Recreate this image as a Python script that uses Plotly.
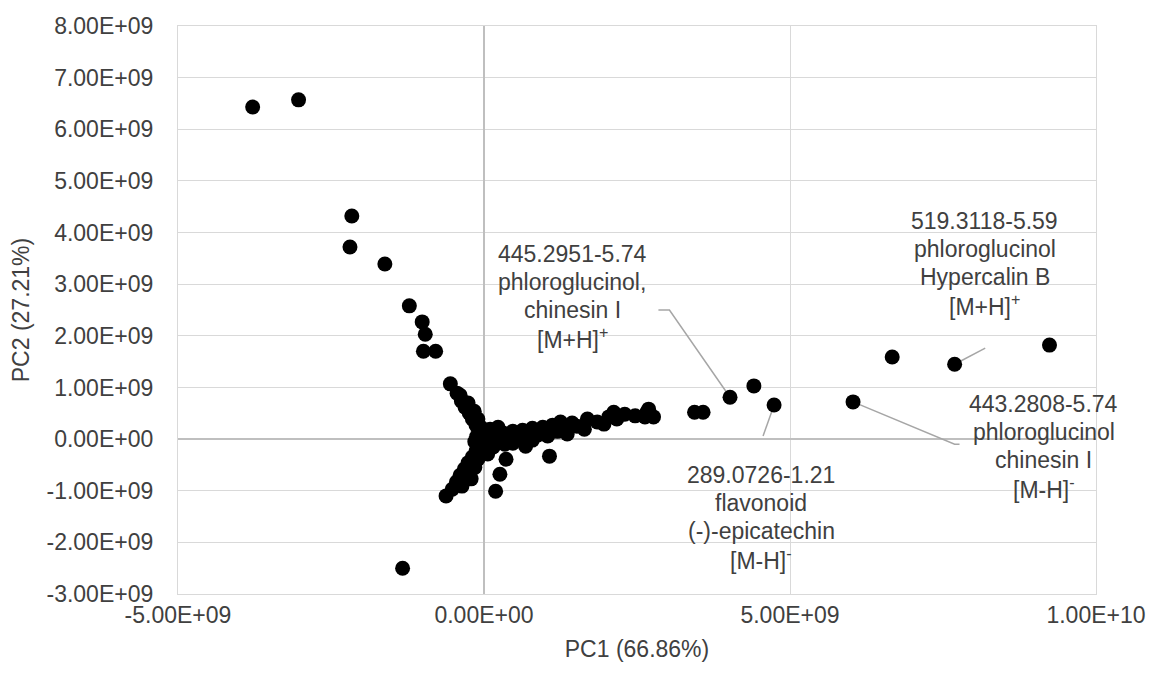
import plotly.graph_objects as go
import numpy as np

SCALE = 1e9  # values below are in units of 1e9

# PC1 / PC2 scores (x 1e9)
pc1 = [
    -3.78, -3.03, -2.16, -2.19, -1.62, -1.22, -1.01, -0.96, -0.99, -0.79,
    -0.55, -0.44, -0.39, -0.37, -0.31, -0.26, -0.24, -0.19, -0.16, -0.13,
    -0.10, -0.08, -0.05, -0.03, -0.15, -0.12,
    -0.06, -0.13, -0.19, -0.26, -0.32, -0.39, -0.45, -0.52, -0.62, -0.21,
    -0.36, -0.10, -0.15, -0.05, -1.33,
    0.36, 0.26, 0.19, 0.06, 0.15, 0.03,
    0.06, 0.15, 0.10, 0.23, 0.23, 0.31, 0.34, 0.39, 0.47, 0.47,
    0.55, 0.63, 0.68, 0.71, 0.79, 0.79, 0.88, 0.96, 1.04, 1.07,
    1.12, 1.20, 1.25, 1.36, 1.44, 1.52, 1.64, 1.69, 1.85, 1.96,
    2.04, 2.12, 2.17, 2.30, 2.47, 2.63, 2.66, 2.69, 2.77, 3.44, 3.58,
    4.02, 4.41, 4.74, 6.03, 6.67, 7.69, 9.24,
]
pc2 = [
    6.43, 6.57, 4.32, 3.72, 3.39, 2.58, 2.27, 2.03, 1.70, 1.70,
    1.07, 0.89, 0.85, 0.74, 0.62, 0.70, 0.50, 0.39, 0.54, 0.27,
    0.39, 0.15, 0.23, 0.06, -0.05, 0.05,
    -0.12, -0.23, -0.35, -0.46, -0.58, -0.70, -0.83, -0.97, -1.10, -0.77,
    -0.91, -0.39, -0.55, -0.25, -2.50,
    -0.39, -0.68, -1.01, -0.29, -0.15, -0.14,
    0.00, 0.08, 0.19, 0.00, 0.23, 0.12, -0.10, 0.04, 0.15, -0.08,
    0.04, 0.17, -0.14, 0.00, 0.21, -0.02, 0.08, 0.23, 0.06, -0.33,
    0.27, 0.15, 0.33, 0.10, 0.31, 0.25, 0.19, 0.39, 0.33, 0.29,
    0.43, 0.52, 0.39, 0.48, 0.45, 0.43, 0.52, 0.58, 0.43, 0.52, 0.52,
    0.81, 1.03, 0.66, 0.72, 1.59, 1.45, 1.82,
]

x_tick_vals = [-5, 0, 5, 10]
y_tick_vals = [-3, -2, -1, 0, 1, 2, 3, 4, 5, 6, 7, 8]

label_lines = [
    ["445.2951-5.74", "phloroglucinol,", "chinesin I", "[M+H]<sup>+</sup>"],
    ["289.0726-1.21", "flavonoid", "(-)-epicatechin", "[M-H]<sup>-</sup>"],
    ["443.2808-5.74", "phloroglucinol", "chinesin I", "[M-H]<sup>-</sup>"],
    ["519.3118-5.59", "phloroglucinol", "Hypercalin B", "[M+H]<sup>+</sup>"],
]
# position of first text line (x 1e9)
label_x = [1.44, 4.53, 9.15, 8.18]
label_y = [3.58, -0.70, 0.68, 4.22]
# leader lines (x 1e9)
leader_x = [[2.85, 3.03, 4.02], [4.56, 4.74], [6.03, 7.69, 7.77], [7.69, 8.19]]
leader_y = [[2.50, 2.50, 0.81], [0.06, 0.66], [0.72, -0.10, -0.10], [1.45, 1.76]]

FONT = "Liberation Sans, Arial, sans-serif"
TXT = "#404040"
LINE_STEP = 28

fig = go.Figure()
for lx, ly in zip(leader_x, leader_y):
    fig.add_trace(go.Scatter(
        x=np.array(lx) * SCALE, y=np.array(ly) * SCALE, mode="lines",
        line=dict(color="#a6a6a6", width=1.5), hoverinfo="skip", showlegend=False))

fig.add_trace(go.Scatter(
    x=np.array(pc1) * SCALE, y=np.array(pc2) * SCALE, mode="markers",
    marker=dict(color="black", size=15, line=dict(width=0)),
    showlegend=False))

for lines, ax, ay in zip(label_lines, label_x, label_y):
    for i, t in enumerate(lines):
        fig.add_annotation(
            x=ax * SCALE, y=ay * SCALE, xref="x", yref="y", text=t,
            showarrow=False, xanchor="center", yanchor="middle",
            yshift=-LINE_STEP * i,
            font=dict(family=FONT, size=23, color=TXT))

axis_common = dict(
    showgrid=True, gridcolor="#d9d9d9", gridwidth=1.3,
    zeroline=True, zerolinecolor="#bfbfbf", zerolinewidth=1.5,
    showline=True, mirror=True, linecolor="#d9d9d9", linewidth=1.3,
    tickcolor="rgba(0,0,0,0)",
    tickfont=dict(family=FONT, size=23, color=TXT),
)

fig.update_layout(
    width=1158, height=675,
    margin=dict(l=178, r=55, t=26, b=81),
    paper_bgcolor="white", plot_bgcolor="white",
    font=dict(family=FONT, color=TXT),
    xaxis=dict(
        range=[-5 * SCALE, 10 * SCALE],
        tickvals=[v * SCALE for v in x_tick_vals],
        ticktext=[f"{v * SCALE:.2E}" for v in x_tick_vals],
        ticks="",
        title=dict(text="PC1 (66.86%)", font=dict(family=FONT, size=23, color=TXT), standoff=14),
        **axis_common),
    yaxis=dict(
        range=[-3 * SCALE, 8 * SCALE],
        tickvals=[v * SCALE for v in y_tick_vals],
        ticktext=[f"{v * SCALE:.2E}" for v in y_tick_vals],
        ticks="outside", ticklen=19,
        title=dict(text="PC2 (27.21%)", font=dict(family=FONT, size=23, color=TXT), standoff=10),
        **axis_common),
)

fig.write_html("out.html", config={"displayModeBar": False})
